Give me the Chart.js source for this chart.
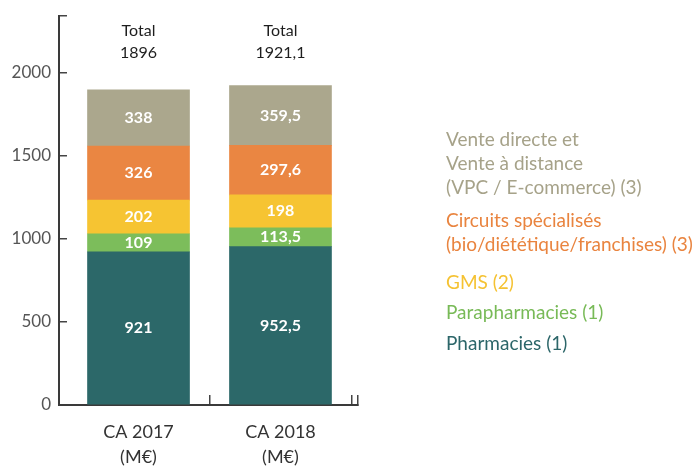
<!DOCTYPE html>
<html lang="fr">
<head>
<meta charset="utf-8">
<title>CA par circuit</title>
<script src="https://cdn.jsdelivr.net/npm/chart.js@4.4.1/dist/chart.umd.min.js"></script>
<style>
  html, body { margin: 0; padding: 0; background: #fff; }
  #wrap { position: relative; width: 696px; height: 466px; font-family: Lato, "Open Sans", sans-serif; }
  #chart { position: absolute; left: 0; top: 0; }
  #legend { position: absolute; left: 446px; top: 127px; font-size: 19px; line-height: 24px; }
  #legend div { white-space: nowrap; }
  #legend div:nth-child(2) { margin-top: 9px; }
  #legend div:nth-child(3) { margin-top: 14px; }
  #legend div:nth-child(4) { margin-top: 6px; }
  #legend div:nth-child(5) { margin-top: 7px; }
</style>
</head>
<body>
<div id="wrap">
  <canvas id="chart" width="696" height="466"></canvas>
  <div id="legend"></div>
</div>
<script>
const categories = [["CA 2017", "(M€)"], ["CA 2018", "(M€)"]];

// bottom to top in the stack
const pharmacies = [921, 952.5];
const parapharmacies = [109, 113.5];
const gms = [202, 198];
const circuits = [326, 297.6];
const venteDirecte = [338, 359.5];

const yTicks = [0, 500, 1000, 1500, 2000];

const series = [
  { label: ["Pharmacies (1)"], data: pharmacies, color: "#2c6869", text: "#2c6669" },
  { label: ["Parapharmacies (1)"], data: parapharmacies, color: "#7cbd5b", text: "#78ba57" },
  { label: ["GMS (2)"], data: gms, color: "#f6c432", text: "#f5c232" },
  { label: ["Circuits spécialisés", "(bio/diététique/franchises) (3)"], data: circuits, color: "#ea8642", text: "#e9843f" },
  { label: ["Vente directe et", "Vente à distance", "(VPC / E-commerce) (3)"], data: venteDirecte, color: "#aba78d", text: "#a6a289" },
];

const fmt = (v) => String(Math.round(v * 10) / 10).replace(".", ",");

const totals = categories.map((c, i) => series.reduce((sum, s) => sum + s.data[i], 0));

const legend = document.getElementById("legend");
legend.innerHTML = series
  .slice()
  .reverse()
  .map((s) => `<div style="color:${s.text}">${s.label.join("<br>")}</div>`)
  .join("");

const barLabels = {
  id: "barLabels",
  afterDatasetsDraw(chart) {
    const ctx = chart.ctx;
    ctx.save();
    ctx.textAlign = "center";
    ctx.textBaseline = "middle";
    ctx.font = "bold 16px Lato, sans-serif";
    ctx.fillStyle = "#ffffff";
    chart.data.datasets.forEach((ds, di) => {
      const meta = chart.getDatasetMeta(di);
      meta.data.forEach((bar, i) => {
        ctx.fillText(fmt(ds.data[i].y), bar.x, (bar.y + bar.base) / 2);
      });
    });
    // totals above each bar
    const top = chart.chartArea.top;
    ctx.fillStyle = "#1e1e1e";
    ctx.font = "16px Lato, sans-serif";
    chart.getDatasetMeta(0).data.forEach((bar, i) => {
      ctx.fillText("Total", bar.x, top + 15);
      ctx.fillText(fmt(totals[i]), bar.x, top + 37);
    });
    ctx.restore();
  },
};

new Chart(document.getElementById("chart"), {
  type: "bar",
  data: {
    datasets: series.map((s) => ({
      label: s.label.join(" "),
      data: s.data.map((v, i) => ({ x: i, y: v })),
      backgroundColor: s.color,
      borderWidth: 0,
      barThickness: 102,
    })),
  },
  options: {
    responsive: false,
    animation: false,
    layout: { padding: { top: 16, right: 338, left: 0, bottom: 0 } },
    plugins: { legend: { display: false }, tooltip: { enabled: false } },
    scales: {
      x: {
        type: "linear",
        stacked: true,
        offset: false,
        min: -0.56,
        max: 1.546,
        afterBuildTicks: (scale) => {
          scale.ticks = [0, 0.5, 1, 1.5, scale.max].map((v) => ({ value: v }));
        },
        afterFit: (scale) => {
          scale.height = 61;
          scale.paddingLeft = 0;
          scale.paddingRight = 0;
        },
        border: { display: true, color: "#3a3a3a", width: 2 },
        grid: { offset: false, drawOnChartArea: false, drawTicks: true, tickLength: -10, color: "#444", lineWidth: 1.5 },
        ticks: {
          autoSkip: false,
          maxRotation: 0,
          padding: 24,
          color: "#333",
          font: { family: "Lato, sans-serif", size: 18, lineHeight: 1.42 },
          callback: (v) => (Number.isInteger(v) && categories[v] ? categories[v] : ""),
        },
      },
      y: {
        stacked: true,
        min: 0,
        max: 2340,
        afterBuildTicks: (scale) => {
          scale.ticks = yTicks.concat([scale.max]).map((v) => ({ value: v }));
        },
        afterFit: (scale) => {
          scale.width = 59;
          scale.paddingTop = 0;
          scale.paddingBottom = 0;
        },
        border: { display: true, color: "#3a3a3a", width: 2 },
        grid: { drawOnChartArea: false, drawTicks: true, tickLength: -8, color: "#444", lineWidth: 1.5 },
        ticks: {
          padding: 16,
          color: "#555",
          font: { family: "Lato, sans-serif", size: 17 },
          callback: (v) => (yTicks.includes(v) ? String(v) : ""),
        },
      },
    },
  },
  plugins: [barLabels],
});
</script>
</body>
</html>
